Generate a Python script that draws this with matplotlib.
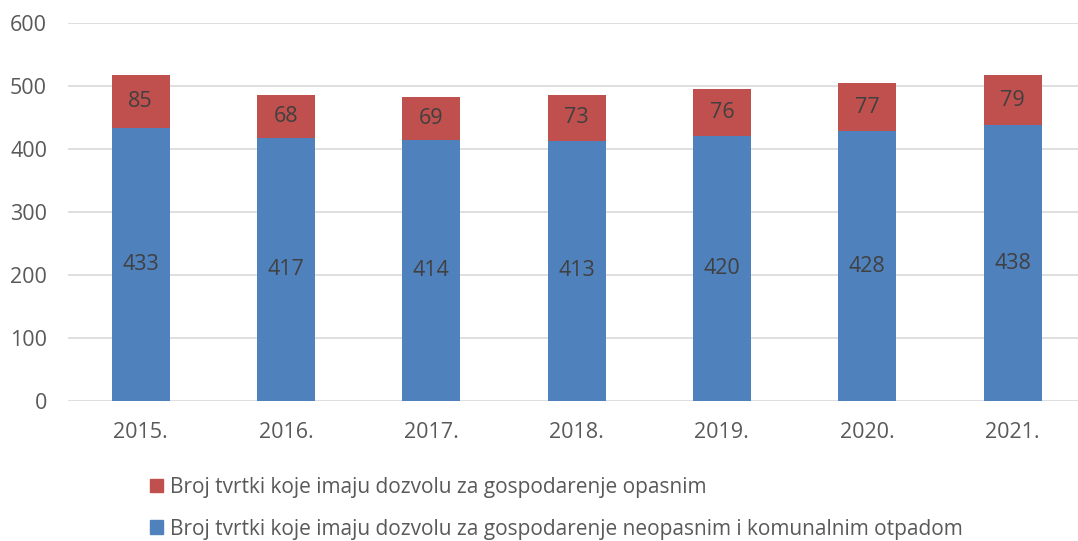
import matplotlib.pyplot as plt
from matplotlib.patches import Patch

plt.rcParams['font.family'] = ['Open Sans', 'DejaVu Sans']

# Data
years = ['2015.', '2016.', '2017.', '2018.', '2019.', '2020.', '2021.']
neopasni = [433, 417, 414, 413, 420, 428, 438]
opasni = [85, 68, 69, 73, 76, 77, 79]

label_opasni = 'Broj tvrtki koje imaju dozvolu za gospodarenje opasnim'
label_neopasni = 'Broj tvrtki koje imaju dozvolu za gospodarenje neopasnim i komunalnim otpadom'

blue = '#4F81BD'
red = '#C0504D'
text_col = '#595959'
fs = 15.5

fig = plt.figure(figsize=(10.78, 5.41), dpi=100)
ax = fig.add_axes([0.063, 0.2588, 0.937, 0.6987])

x = range(len(years))
b1 = ax.bar(x, neopasni, width=0.4, color=blue, zorder=3)
b2 = ax.bar(x, opasni, width=0.4, bottom=neopasni, color=red, zorder=3)

ax.bar_label(b1, label_type='center', fontsize=fs, color='#404040')
ax.bar_label(b2, label_type='center', fontsize=fs, color='#404040')

ax.set_xlim(-0.5, 6.45)
ax.set_ylim(0, 600)
ax.set_yticks(range(0, 601, 100))
ax.set_xticks(list(x))
ax.set_xticklabels(years)
ax.yaxis.grid(True, color='#D9D9D9', linewidth=1.2, zorder=0)
ax.tick_params(axis='both', length=0, labelsize=fs, labelcolor=text_col)
ax.tick_params(axis='y', pad=15)
ax.tick_params(axis='x', pad=15)
for s in ax.spines.values():
    s.set_visible(False)

handles = [Patch(color=red, label=label_opasni), Patch(color=blue, label=label_neopasni)]
fig.legend(handles=handles, loc='upper left', bbox_to_anchor=(0.131, 0.134),
           frameon=False, fontsize=15, labelcolor=text_col,
           handlelength=0.65, handleheight=0.65, handletextpad=0.35,
           labelspacing=1.0, borderaxespad=0)

fig.savefig('out.png', dpi=100)
